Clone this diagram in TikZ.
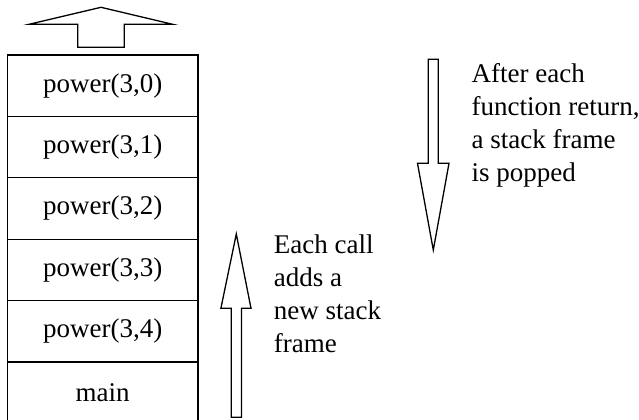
\documentclass[tikz,border=0pt]{standalone}
\usepackage{fontspec}
\setmainfont{Liberation Serif}
\begin{document}
\begin{tikzpicture}[x=0.5pt,y=-0.5pt,
  line width=0.65pt,
  frame/.style={draw, rectangle, inner sep=0pt, outer sep=0pt,
    minimum width=95.35pt, minimum height=30.7pt,
    font=\fontsize{13.5pt}{16.5pt}\selectfont},
  note/.style={anchor=base west, align=left, inner sep=0pt,
    font=\fontsize{13.5pt}{16.5pt}\selectfont},
  blockarrow/.style={draw, fill=white, line join=miter}]
\useasboundingbox (0,0) rectangle (639,419);

% stack frames, top to bottom
\node[frame] (f0) at (102.65,85.7)  {power(3,0)};
\node[frame] (f1) at (102.65,147.1) {power(3,1)};
\node[frame] (f2) at (102.65,208.5) {power(3,2)};
\node[frame] (f3) at (102.65,269.9) {power(3,3)};
\node[frame] (f4) at (102.65,331.3) {power(3,4)};
\node[frame] (f5) at (102.65,392.7) {main};

% outgoing arrow above the top frame
\draw[blockarrow] (101,7.3) -- (172.7,24.3) -- (124.3,24.3) -- (124.3,47.3)
  -- (77.7,47.3) -- (77.7,24.3) -- (29,24.3) -- cycle;

% push arrow (upwards)
\draw[blockarrow] (236.3,234) -- (251,308.3) -- (241.5,308.3) -- (241.5,417.3)
  -- (231.3,417.3) -- (231.3,308.3) -- (220.9,308.3) -- cycle;

% pop arrow (downwards)
\draw[blockarrow] (428.3,59.3) -- (438.3,59.3) -- (438.3,163.3) -- (449,163.3)
  -- (433.3,250) -- (417.5,163.3) -- (428.3,163.3) -- cycle;

% captions; the base anchor sits on the last line
\node[note] (push) at (273.3,352.3) {Each call\\adds a\\new stack\\frame};
\node[note] (pop) at (471,181.3) {After each\\function return,\\a stack frame\\is popped};
\end{tikzpicture}
\end{document}
